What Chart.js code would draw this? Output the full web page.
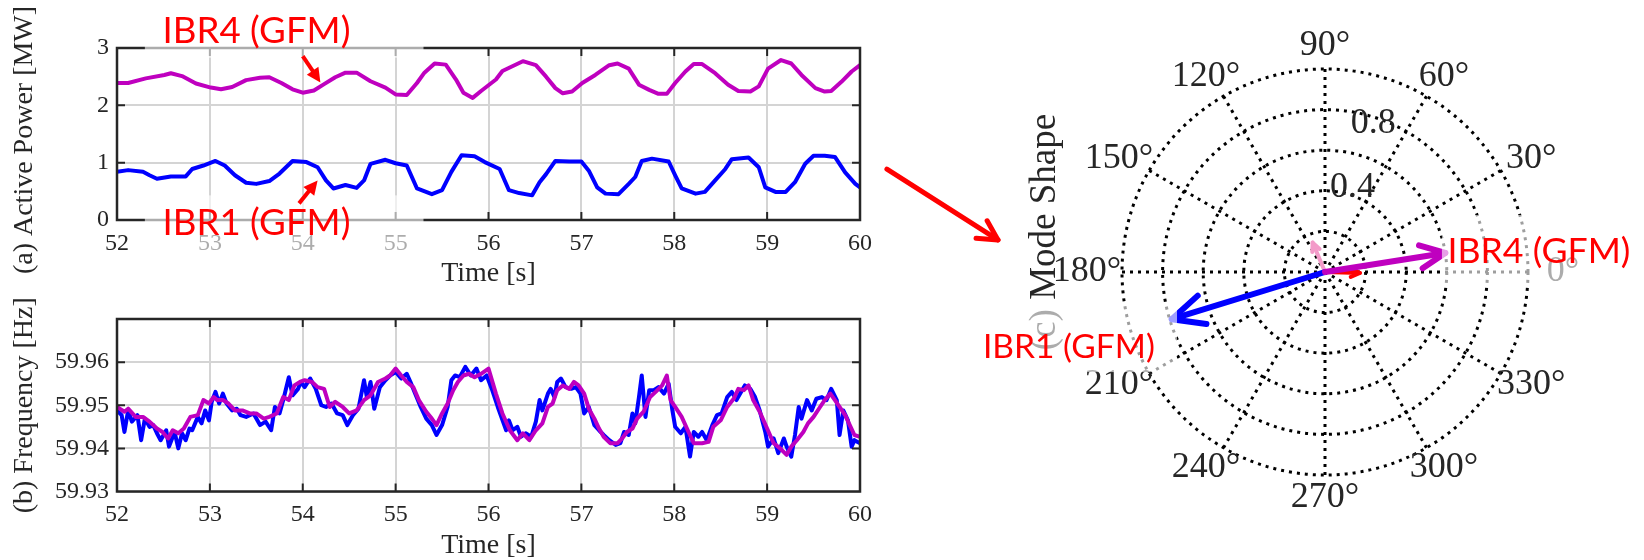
<!DOCTYPE html>
<html>
<head>
<meta charset="utf-8">
<script src="https://cdn.jsdelivr.net/npm/chart.js@4.4.1/dist/chart.umd.min.js"></script>
<style>
html,body{margin:0;padding:0;background:#fff;width:1644px;height:560px;overflow:hidden}
#wrap{position:relative;width:1644px;height:560px}
canvas{position:absolute;left:0;top:0}
</style>
</head>
<body>
<div id="wrap">
<canvas id="cTop" width="1644" height="560"></canvas>
<canvas id="cBot" width="1644" height="560"></canvas>
<canvas id="cPol" width="1644" height="560"></canvas>
</div>
<script>
// ---------------- DATA ----------------
const timeTicks = [52, 53, 54, 55, 56, 57, 58, 59, 60];
const powerTicks = [0, 1, 2, 3];
const freqTicks = [59.93, 59.94, 59.95, 59.96];

// (a) Active power [MW]
const powerTimeIBR4 = [52.00,52.12,52.31,52.51,52.58,52.70,52.85,53.01,53.12,53.24,53.39,53.54,53.64,53.77,53.89,54.00,54.12,54.23,54.35,54.46,54.58,54.73,54.89,55.00,55.12,55.23,55.31,55.42,55.54,55.65,55.73,55.83,55.92,56.08,56.15,56.37,56.51,56.62,56.72,56.80,56.90,57.01,57.15,57.30,57.39,57.51,57.62,57.73,57.83,57.92,58.01,58.12,58.21,58.30,58.44,58.58,58.69,58.82,58.91,59.01,59.15,59.26,59.37,59.52,59.62,59.69,59.80,59.91,60.00];
const powerIBR4 = [2.39,2.39,2.47,2.53,2.56,2.51,2.38,2.31,2.28,2.32,2.44,2.48,2.49,2.39,2.28,2.22,2.26,2.37,2.49,2.57,2.57,2.42,2.31,2.19,2.18,2.39,2.57,2.73,2.71,2.45,2.22,2.13,2.25,2.45,2.60,2.77,2.70,2.50,2.30,2.21,2.24,2.39,2.53,2.70,2.73,2.64,2.36,2.27,2.20,2.20,2.39,2.59,2.72,2.72,2.56,2.36,2.25,2.24,2.33,2.64,2.79,2.73,2.53,2.30,2.24,2.25,2.41,2.59,2.70];
const powerTimeIBR1 = [52.00,52.12,52.28,52.35,52.43,52.58,52.74,52.81,52.93,53.06,53.16,53.27,53.39,53.50,53.64,53.75,53.89,54.04,54.16,54.25,54.33,54.46,54.58,54.66,54.73,54.89,55.00,55.12,55.23,55.39,55.50,55.60,55.71,55.85,55.96,56.12,56.22,56.33,56.47,56.55,56.62,56.72,56.87,57.00,57.08,57.17,57.26,57.40,57.51,57.58,57.65,57.76,57.94,58.01,58.08,58.23,58.33,58.44,58.55,58.62,58.80,58.91,58.98,59.09,59.20,59.30,59.41,59.50,59.62,59.73,59.84,59.95,60.00];
const powerIBR1 = [0.84,0.87,0.84,0.78,0.72,0.76,0.76,0.89,0.95,1.03,0.95,0.78,0.65,0.63,0.68,0.81,1.03,1.01,0.92,0.69,0.55,0.61,0.56,0.69,0.98,1.05,0.99,0.95,0.55,0.45,0.52,0.84,1.13,1.11,1.01,0.89,0.52,0.47,0.43,0.66,0.80,1.03,1.02,1.02,0.86,0.57,0.46,0.45,0.63,0.75,1.03,1.07,1.02,0.78,0.55,0.46,0.49,0.69,0.89,1.06,1.09,0.92,0.57,0.49,0.49,0.66,0.98,1.12,1.12,1.10,0.83,0.63,0.57];

// (b) Frequency [Hz]
const freqTimeIBR1 = [52.00,52.05,52.08,52.12,52.16,52.22,52.26,52.30,52.35,52.39,52.43,52.47,52.53,52.56,52.62,52.66,52.70,52.74,52.78,52.81,52.87,52.91,52.95,52.99,53.02,53.06,53.10,53.14,53.18,53.24,53.29,53.33,53.39,53.47,53.54,53.60,53.66,53.70,53.75,53.79,53.85,53.89,53.95,53.98,54.02,54.08,54.14,54.20,54.25,54.31,54.37,54.43,54.48,54.54,54.60,54.66,54.69,54.73,54.77,54.83,54.89,54.94,55.00,55.06,55.12,55.16,55.21,55.27,55.33,55.39,55.44,55.50,55.56,55.60,55.64,55.69,55.75,55.81,55.87,55.92,55.98,56.04,56.10,56.19,56.22,56.26,56.31,56.35,56.40,56.46,56.51,56.55,56.58,56.64,56.67,56.71,56.74,56.78,56.83,56.89,56.94,56.99,57.03,57.08,57.14,57.19,57.24,57.30,57.37,57.42,57.46,57.51,57.55,57.58,57.62,57.65,57.69,57.73,57.78,57.83,57.89,57.94,57.98,58.01,58.07,58.12,58.17,58.21,58.26,58.30,58.35,58.41,58.46,58.51,58.57,58.62,58.67,58.71,58.76,58.82,58.87,58.92,58.98,59.01,59.07,59.12,59.18,59.21,59.26,59.30,59.34,59.37,59.43,59.48,59.53,59.59,59.64,59.69,59.75,59.78,59.82,59.87,59.91,59.94,60.00];
const freqIBR1 = [59.9488,59.9477,59.9438,59.9488,59.9462,59.9477,59.9419,59.9469,59.9450,59.9454,59.9435,59.9419,59.9442,59.9404,59.9438,59.9400,59.9435,59.9419,59.9446,59.9442,59.9473,59.9458,59.9488,59.9465,59.9508,59.9531,59.9504,59.9527,59.9504,59.9488,59.9492,59.9477,59.9473,59.9481,59.9454,59.9462,59.9442,59.9496,59.9481,59.9512,59.9565,59.9523,59.9538,59.9554,59.9542,59.9562,59.9538,59.9500,59.9496,59.9504,59.9481,59.9477,59.9454,59.9477,59.9492,59.9558,59.9519,59.9554,59.9492,59.9542,59.9558,59.9569,59.9577,59.9562,59.9573,59.9554,59.9527,59.9496,59.9469,59.9454,59.9431,59.9454,59.9496,59.9558,59.9569,59.9565,59.9589,59.9569,59.9585,59.9558,59.9569,59.9535,59.9496,59.9442,59.9465,59.9442,59.9450,59.9427,59.9435,59.9427,59.9462,59.9512,59.9488,59.9527,59.9538,59.9519,59.9554,59.9562,59.9542,59.9538,59.9542,59.9527,59.9481,59.9496,59.9454,59.9442,59.9431,59.9419,59.9408,59.9412,59.9438,59.9431,59.9481,59.9458,59.9519,59.9569,59.9473,59.9535,59.9535,59.9542,59.9527,59.9550,59.9488,59.9450,59.9435,59.9450,59.9381,59.9438,59.9427,59.9438,59.9419,59.9454,59.9477,59.9481,59.9519,59.9531,59.9512,59.9527,59.9546,59.9538,59.9519,59.9488,59.9438,59.9404,59.9423,59.9389,59.9423,59.9404,59.9381,59.9431,59.9496,59.9469,59.9512,59.9488,59.9515,59.9519,59.9512,59.9538,59.9512,59.9431,59.9488,59.9465,59.9404,59.9419,59.9412];
const freqTimeIBR4 = [52.00,52.08,52.12,52.20,52.28,52.35,52.43,52.49,52.55,52.60,52.66,52.72,52.79,52.87,52.93,52.99,53.04,53.08,53.14,53.20,53.27,53.35,53.43,53.50,53.58,53.64,53.72,53.79,53.85,53.91,53.97,54.02,54.10,54.16,54.23,54.29,54.35,54.43,54.50,54.58,54.66,54.73,54.81,54.89,54.94,55.00,55.06,55.12,55.19,55.25,55.33,55.39,55.44,55.50,55.56,55.62,55.67,55.73,55.79,55.85,55.92,56.00,56.08,56.15,56.23,56.31,56.37,56.44,56.51,56.58,56.64,56.69,56.74,56.80,56.87,56.92,56.97,57.03,57.08,57.14,57.19,57.24,57.31,57.39,57.44,57.49,57.55,57.60,57.67,57.74,57.80,57.87,57.92,57.96,58.01,58.08,58.16,58.21,58.30,58.37,58.42,58.50,58.57,58.64,58.69,58.75,58.80,58.85,58.92,59.00,59.07,59.14,59.21,59.26,59.32,59.39,59.44,59.50,59.57,59.62,59.68,59.73,59.78,59.84,59.89,59.94,60.00];
const freqIBR4 = [59.9496,59.9485,59.9492,59.9473,59.9473,59.9462,59.9446,59.9438,59.9423,59.9442,59.9435,59.9446,59.9473,59.9477,59.9512,59.9504,59.9519,59.9512,59.9512,59.9504,59.9488,59.9488,59.9481,59.9481,59.9469,59.9473,59.9481,59.9519,59.9512,59.9546,59.9554,59.9558,59.9554,59.9542,59.9538,59.9496,59.9508,59.9496,59.9481,59.9488,59.9512,59.9523,59.9554,59.9562,59.9569,59.9585,59.9569,59.9554,59.9542,59.9512,59.9485,59.9469,59.9454,59.9481,59.9504,59.9535,59.9554,59.9569,59.9573,59.9565,59.9573,59.9585,59.9527,59.9481,59.9442,59.9419,59.9435,59.9419,59.9442,59.9458,59.9496,59.9504,59.9535,59.9546,59.9538,59.9554,59.9546,59.9527,59.9492,59.9469,59.9446,59.9427,59.9412,59.9412,59.9423,59.9438,59.9446,59.9469,59.9485,59.9519,59.9531,59.9546,59.9569,59.9512,59.9496,59.9473,59.9435,59.9412,59.9412,59.9415,59.9450,59.9465,59.9496,59.9515,59.9538,59.9535,59.9546,59.9512,59.9485,59.9446,59.9412,59.9400,59.9385,59.9404,59.9419,59.9438,59.9458,59.9473,59.9496,59.9512,59.9527,59.9512,59.9496,59.9477,59.9454,59.9431,59.9427];

// (c) Mode shape (magnitude, angle in degrees)
const modeNames = ['IBR3', 'IBR2', 'IBR1 (GFM)', 'IBR4 (GFM)'];
const modeMagnitude = [0.172, 0.157, 0.790, 0.600];
const modeAngleDeg = [358.4, 112.8, 197.1, 9.0];
const angleTicks = [0, 30, 60, 90, 120, 150, 180, 210, 240, 270, 300, 330];
const radialTickLabels = [0.4, 0.8];

// ---------------- STYLE / HELPERS ----------------
const SERIF = '"Liberation Serif", "Times New Roman", serif';
const SANS = 'Lato, "Liberation Sans", sans-serif';
const AXC = '#262626';
const BLUE = '#0000FF', MAG = '#BF00BF', PINK = '#F39BC9', RED = '#FF0000';
const zip = (xs, ys) => xs.map((x, i) => ({x: x, y: ys[i]}));

function fitFont(ctx, text, family, width) {
  ctx.font = '100px ' + family;
  const w = ctx.measureText(text).width;
  ctx.font = (100 * width / w).toFixed(2) + 'px ' + family;
}
function veil(ctx, x0, y0, x1, y1) {
  ctx.save();
  ctx.fillStyle = 'rgba(255,255,255,0.62)';
  ctx.fillRect(Math.min(x0, x1), Math.min(y0, y1), Math.abs(x1 - x0), Math.abs(y1 - y0));
  ctx.restore();
}
function redText(ctx, text, x, y, width) {
  ctx.save();
  fitFont(ctx, text, SANS, width);
  ctx.fillStyle = RED; ctx.textAlign = 'left'; ctx.textBaseline = 'middle';
  ctx.fillText(text, x, y);
  ctx.restore();
}
function arrowFilled(ctx, x0, y0, x1, y1, w, hl, hw, color) {
  const a = Math.atan2(y1 - y0, x1 - x0), c = Math.cos(a), s = Math.sin(a);
  const bx = x1 - c * hl, by = y1 - s * hl;
  ctx.save();
  ctx.strokeStyle = color; ctx.fillStyle = color; ctx.lineWidth = w; ctx.lineCap = 'butt';
  ctx.beginPath(); ctx.moveTo(x0, y0); ctx.lineTo(bx + c * 2, by + s * 2); ctx.stroke();
  ctx.beginPath(); ctx.moveTo(x1, y1);
  ctx.lineTo(bx - s * hw, by + c * hw); ctx.lineTo(bx + s * hw, by - c * hw); ctx.closePath(); ctx.fill();
  ctx.restore();
}
function arrowChevron(ctx, x0, y0, x1, y1, w, armL, half, color) {
  const a = Math.atan2(y0 - y1, x0 - x1);
  ctx.save();
  ctx.strokeStyle = color; ctx.lineWidth = w; ctx.lineCap = 'round'; ctx.lineJoin = 'round';
  ctx.beginPath(); ctx.moveTo(x0, y0); ctx.lineTo(x1, y1); ctx.stroke();
  ctx.beginPath();
  ctx.moveTo(x1 + Math.cos(a + half) * armL, y1 + Math.sin(a + half) * armL);
  ctx.lineTo(x1, y1);
  ctx.lineTo(x1 + Math.cos(a - half) * armL, y1 + Math.sin(a - half) * armL);
  ctx.stroke();
  ctx.restore();
}

function axesDecor(cfg) {
  return {
    id: 'axesDecor',
    afterDatasetsDraw(chart) {
      const {ctx, chartArea: a, scales: {x, y}} = chart;
      ctx.save();
      ctx.strokeStyle = AXC; ctx.lineWidth = 2;
      const tl = 8;
      ctx.beginPath();
      x.ticks.forEach(t => {
        const px = x.getPixelForValue(t.value);
        if (px <= a.left + 1 || px >= a.right - 1) return;
        ctx.moveTo(px, a.bottom); ctx.lineTo(px, a.bottom - tl);
        ctx.moveTo(px, a.top); ctx.lineTo(px, a.top + tl);
      });
      y.ticks.forEach(t => {
        const py = y.getPixelForValue(t.value);
        if (py <= a.top + 1 || py >= a.bottom - 1) return;
        ctx.moveTo(a.left, py); ctx.lineTo(a.left + tl, py);
        ctx.moveTo(a.right, py); ctx.lineTo(a.right - tl, py);
      });
      ctx.stroke();
      ctx.lineWidth = 2.5;
      ctx.strokeRect(a.left, a.top, a.right - a.left, a.bottom - a.top);
      ctx.restore();
    },
    afterDraw(chart) {
      const {ctx, chartArea: a} = chart;
      ctx.save();
      ctx.fillStyle = AXC;
      ctx.font = '28px ' + SERIF;
      ctx.textAlign = 'center'; ctx.textBaseline = 'middle';
      ctx.fillText(cfg.xTitle, (a.left + a.right) / 2, a.bottom + 54);
      ctx.translate(25, (a.top + a.bottom) / 2 + cfg.yTitleShift);
      ctx.rotate(-Math.PI / 2);
      ctx.fillText(cfg.yTitle, 0, 0);
      ctx.restore();
      if (cfg.annotate) cfg.annotate(chart);
    }
  };
}

// y axis box: 70 px wide, x axis box: 40 px tall (tick labels live inside them)
const Y_AXIS_W = 70, X_AXIS_H = 40;
function lineOptions(area, yMin, yMax, yTicks, yFmt) {
  const tickFont = {family: SERIF, size: 24};
  const grid = {color: '#d4d4d4', lineWidth: 2, drawTicks: false};
  return {
    responsive: false, animation: false, events: [],
    layout: {padding: {left: area.left - Y_AXIS_W, right: 1644 - area.right, top: area.top, bottom: 560 - area.bottom - X_AXIS_H}},
    plugins: {legend: {display: false}, tooltip: {enabled: false}},
    elements: {point: {radius: 0}, line: {tension: 0, borderJoinStyle: 'round', borderCapStyle: 'round'}},
    scales: {
      x: {
        type: 'linear', min: 52, max: 60,
        afterFit(s) { s.height = X_AXIS_H; },
        afterBuildTicks(s) { s.ticks = timeTicks.map(v => ({value: v})); },
        ticks: {font: tickFont, color: AXC, padding: 9, maxRotation: 0, autoSkip: false, callback: v => String(v)},
        grid: grid, border: {display: false}
      },
      y: {
        type: 'linear', min: yMin, max: yMax,
        afterFit(s) { s.width = Y_AXIS_W; },
        afterBuildTicks(s) { s.ticks = yTicks.map(v => ({value: v})); },
        ticks: {font: tickFont, color: AXC, padding: 8, autoSkip: false, callback: yFmt},
        grid: grid, border: {display: false}
      }
    }
  };
}

// ---------------- (a) ACTIVE POWER ----------------
new Chart(document.getElementById('cTop'), {
  type: 'line',
  data: {
    datasets: [
      {label: 'IBR4 (GFM)', data: zip(powerTimeIBR4, powerIBR4), borderColor: MAG, borderWidth: 4},
      {label: 'IBR1 (GFM)', data: zip(powerTimeIBR1, powerIBR1), borderColor: BLUE, borderWidth: 4}
    ]
  },
  options: lineOptions({left: 117, right: 860, top: 48, bottom: 220}, 0, 3, powerTicks, v => String(v)),
  plugins: [axesDecor({
    xTitle: 'Time [s]', yTitle: '(a) Active Power [MW]', yTitleShift: 6,
    annotate(chart) {
      const {ctx, scales: {x, y}} = chart;
      const X = v => x.getPixelForValue(v), Y = v => y.getPixelForValue(v);
      veil(ctx, X(52.30), Y(3.80), X(55.30), Y(2.83));
      veil(ctx, X(52.30), Y(0.43), X(55.30), Y(-0.66));
      redText(ctx, 'IBR4 (GFM)', X(52.49), Y(3.30), 188);
      redText(ctx, 'IBR1 (GFM)', X(52.49), Y(-0.05), 188);
      arrowFilled(ctx, X(54.00), Y(2.86), X(54.19), Y(2.40), 4, 14, 7, RED);
      arrowFilled(ctx, X(53.96), Y(0.29), X(54.16), Y(0.69), 4, 14, 7, RED);
    }
  })]
});

// ---------------- (b) FREQUENCY ----------------
new Chart(document.getElementById('cBot'), {
  type: 'line',
  data: {
    datasets: [
      {label: 'IBR4 (GFM)', data: zip(freqTimeIBR4, freqIBR4), borderColor: MAG, borderWidth: 4, order: 1},
      {label: 'IBR1 (GFM)', data: zip(freqTimeIBR1, freqIBR1), borderColor: BLUE, borderWidth: 4, order: 2}
    ]
  },
  options: lineOptions({left: 117, right: 860, top: 319, bottom: 491.5}, 59.93, 59.97, freqTicks, v => v.toFixed(2)),
  plugins: [axesDecor({xTitle: 'Time [s]', yTitle: '(b) Frequency [Hz]', yTitleShift: 0})]
});

// ---------------- (c) MODE SHAPE (polar) ----------------
const angleToIndex = deg => (((90 - deg) / 30) % 12 + 12) % 12;
const polarLabels = [];
for (let i = 0; i < 12; i++) polarLabels.push('');
angleTicks.forEach(d => { polarLabels[Math.round(angleToIndex(d)) % 12] = d + '°'; });
const modeStyle = [
  {color: RED, width: 4},
  {color: PINK, width: 4},
  {color: BLUE, width: 6},
  {color: MAG, width: 6}
];

new Chart(document.getElementById('cPol'), {
  type: 'radar',
  data: {labels: polarLabels, datasets: []},
  options: {
    responsive: false, animation: false, events: [],
    layout: {padding: {left: 1122, right: 116, top: 69, bottom: 85}},
    plugins: {legend: {display: false}, tooltip: {enabled: false}},
    scales: {
      r: {
        min: 0, max: 1, startAngle: 0,
        ticks: {display: false, stepSize: 0.2},
        pointLabels: {display: false},
        grid: {circular: true, color: '#000', lineWidth: 3},
        border: {dash: [3, 5]},
        angleLines: {display: true, color: '#000', lineWidth: 3, borderDash: [3, 5]}
      }
    }
  },
  plugins: [{
    id: 'polarDecor',
    afterDraw(chart) {
      const ctx = chart.ctx, r = chart.scales.r;
      const cx = r.xCenter, cy = r.yCenter, R = r.drawingArea;
      ctx.save();
      ctx.fillStyle = AXC;
      ctx.textAlign = 'center'; ctx.textBaseline = 'middle';
      ctx.font = '36px ' + SERIF;
      // angle tick labels
      angleTicks.forEach(d => {
        const p = r.getPointPosition(angleToIndex(d), 1);
        const ux = p.x - cx, uy = p.y - cy;
        ctx.fillText(d + '°', cx + ux * (R + 35), cy + uy * (R + 23));
      });
      // radial tick labels
      radialTickLabels.forEach(v => {
        const p = r.getPointPosition(angleToIndex(72), r.getDistanceFromCenterForValue(v) + 22 - 35 * v);
        ctx.fillText(String(v), p.x, p.y);
      });
      // axis label
      ctx.save();
      ctx.font = '37px ' + SERIF;
      ctx.translate(cx - 1.38 * R, cy - 0.197 * R);
      ctx.rotate(-Math.PI / 2);
      ctx.fillText('(c) Mode Shape', 0, 0);
      ctx.restore();
      ctx.restore();
      // mode-shape vectors
      modeMagnitude.forEach((m, k) => {
        const tip = r.getPointPositionForValue(angleToIndex(modeAngleDeg[k]), m);
        const len = Math.hypot(tip.x - cx, tip.y - cy);
        arrowChevron(ctx, cx, cy, tip.x, tip.y, modeStyle[k].width, 0.2 * len + 3, 25 * Math.PI / 180, modeStyle[k].color);
      });
      // annotation boxes and labels
      veil(ctx, cx + 0.576 * R, cy - 0.281 * R, chart.width, cy + 0.074 * R);
      veil(ctx, cx - 1.788 * R, cy + 0.163 * R, cx - 0.729 * R, cy + 0.493 * R);
      redText(ctx, modeNames[3], cx + 0.603 * R, cy - 0.10 * R, 183);
      redText(ctx, modeNames[2], cx - 1.685 * R, cy + 0.37 * R, 172);
      // connector arrow from the time plots to the mode shape
      arrowChevron(ctx, cx - 2.158 * R, cy - 0.507 * R, cx - 1.611 * R, cy - 0.158 * R, 5, 22, 28 * Math.PI / 180, RED);
    }
  }]
});
</script>
</body>
</html>
